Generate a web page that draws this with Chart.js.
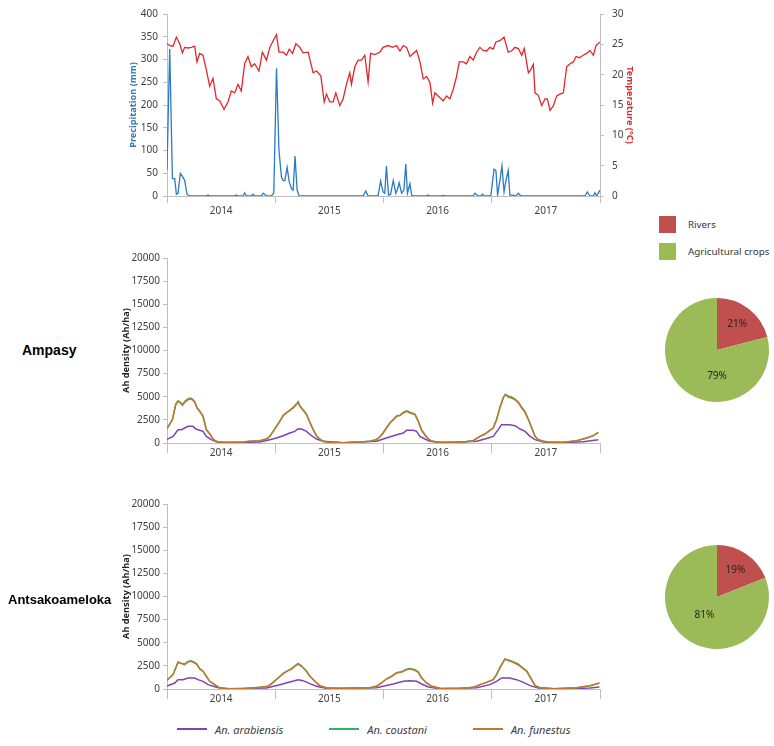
<!DOCTYPE html>
<html>
<head>
<meta charset="utf-8">
<script src="https://cdn.jsdelivr.net/npm/chart.js@4.4.0/dist/chart.umd.min.js"></script>
<style>
  body { margin: 0; background: #fff; }
  #page { position: relative; width: 774px; height: 746px; overflow: hidden; font-family: 'Noto Sans', sans-serif; color: #404040; }
  .abs { position: absolute; }
  .site { position: absolute; font: bold 14px 'Liberation Sans', Arial, sans-serif; color: #000; transform: translateY(-50%); white-space: nowrap; }
  #pie-legend .row { display: flex; align-items: center; height: 17px; margin-bottom: 10px; font-size: 9.8px; color: #333; white-space: nowrap; }
  #pie-legend .swatch { width: 17px; height: 17px; margin-right: 12px; }
  #species-legend { display: flex; align-items: center; gap: 46px; font-size: 11px; font-style: italic; color: #404040; }
  #species-legend .item { display: flex; align-items: center; white-space: nowrap; }
  #species-legend .line { width: 30px; height: 2px; margin-right: 8px; }
</style>
</head>
<body>
<div id="page">
  <canvas id="climate" class="abs" width="530" height="220" style="left:120px;top:0"></canvas>
  <canvas id="ampasy" class="abs" width="500" height="227" style="left:110px;top:240px"></canvas>
  <canvas id="antsa" class="abs" width="500" height="227" style="left:110px;top:486px"></canvas>
  <canvas id="pie-ampasy" class="abs" width="114" height="114" style="left:660px;top:293px"></canvas>
  <canvas id="pie-antsa" class="abs" width="114" height="114" style="left:660px;top:540px"></canvas>
  <div id="pie-legend" class="abs" style="left:659px;top:216px"></div>
  <div id="species-legend" class="abs" style="left:177px;top:722px;height:14px"></div>
  <div class="site" style="left:22px;top:350px">Ampasy</div>
  <div class="site" style="left:8px;top:599px;font-size:13px">Antsakoameloka</div>
</div>
<script>
// x positions are weeks counted from the start of 2014 (4 years = 208 weeks)
const years = ["2014", "2015", "2016", "2017"];

const tempWeeks = [0, 1.3, 2.9, 4.5, 6.1, 7.4, 8.5, 10.1, 11.7, 13.3, 14.4, 15.7, 17.3, 18.9, 20.5, 22.1, 23.7, 25.3, 27.4, 29.3,
  30.9, 32.5, 34.1, 35.7, 37.3, 38.9, 40.5, 42.1, 44.2, 45.8, 47.8, 49.4, 51.0, 52.6, 53.8, 55.8, 57.4, 58.7, 60.3, 61.9,
  63.8, 65.4, 67.8, 70.2, 71.8, 73.9, 75.5, 76.6, 78.2, 79.8, 81.1, 83.0, 84.6, 86.2, 87.8, 88.6, 90.2, 91.8, 93.4, 95.0,
  96.6, 97.8, 99.8, 102.2, 103.8, 106.3, 108.3, 110.3, 111.9, 113.5, 115.1, 116.7, 118.3, 119.9, 121.5, 123.1, 124.7, 126.3, 127.6, 128.7,
  131.1, 132.7, 134.3, 135.9, 137.5, 139.1, 140.4, 142.3, 143.9, 145.5, 147.1, 148.7, 150.3, 151.9, 153.5, 155.1, 156.7, 158.0, 159.9, 161.9,
  163.9, 165.5, 167.1, 168.8, 170.4, 171.6, 173.6, 174.7, 176.0, 176.8, 178.4, 180.0, 181.6, 182.7, 184.0, 185.6, 187.2, 188.8, 190.4, 192.0,
  193.6, 195.2, 196.5, 198.1, 200.0, 201.6, 203.2, 204.8, 206.1, 208.0];
const tempValues = [25.1, 24.8, 24.7, 26.2, 25.1, 23.6, 24.5, 24.4, 24.5, 24.7, 22.1, 23.5, 23.2, 20.8, 18.1, 19.4, 16.0, 15.7, 14.3, 15.5,
  17.3, 17.0, 18.4, 17.3, 21.8, 23.0, 21.3, 21.8, 20.6, 23.7, 22.4, 24.5, 25.6, 26.6, 23.7, 23.7, 23.2, 24.2, 23.5, 25.1,
  24.5, 23.6, 23.7, 20.3, 20.6, 19.8, 15.5, 16.8, 15.5, 15.5, 17.0, 14.9, 16.0, 18.4, 20.3, 18.4, 21.3, 22.4, 22.4, 23.2,
  18.8, 23.5, 23.3, 23.7, 24.5, 24.8, 24.5, 24.8, 23.9, 24.8, 24.5, 23.0, 23.5, 24.0, 22.1, 19.3, 19.7, 18.7, 15.3, 17.0,
  16.2, 15.7, 16.5, 16.0, 17.6, 19.7, 22.1, 22.1, 21.8, 23.0, 22.4, 23.7, 24.5, 24.0, 23.9, 24.5, 24.2, 25.4, 25.6, 26.2,
  23.7, 23.9, 24.5, 24.3, 23.2, 24.3, 20.3, 20.8, 21.7, 17.0, 16.6, 14.9, 16.0, 16.0, 14.1, 14.9, 16.5, 16.8, 17.0, 21.3,
  21.8, 22.1, 23.0, 22.8, 23.2, 23.5, 24.0, 23.2, 24.8, 25.4];

const rainWeeks = [0, 1.3, 2.6, 3.7, 4.5, 5.3, 6.4, 7.7, 8.5, 9.6, 10.9, 18.9, 19.7, 20.5, 32.5, 33.3, 34.1, 36.5, 37.3, 38.1,
  40.5, 41.3, 42.1, 45.4, 46.2, 47.8, 50.2, 51.3, 52.6, 53.8, 55.0, 55.8, 56.6, 57.7, 58.7, 59.8, 60.6, 61.5, 62.5, 63.5,
  94.2, 95.5, 96.6, 101.4, 102.6, 103.8, 104.6, 105.4, 106.4, 107.4, 108.7, 109.9, 110.6, 111.5, 112.7, 113.8, 114.7, 115.5, 116.7, 117.5,
  118.6, 124.7, 125.5, 126.3, 131.9, 132.7, 133.5, 147.1, 147.9, 149.5, 150.8, 151.6, 152.4, 154.8, 155.6, 157.1, 158.0, 158.8, 159.9, 160.9,
  161.9, 162.8, 163.9, 164.7, 166.3, 167.6, 168.8, 169.9, 200.8, 201.9, 203.2, 204.8, 205.6, 206.4, 208.0];
const rainValues = [57, 323, 38, 38, 4, 6, 50, 41, 34, 4, 0, 0, 2, 0, 0, 2, 0, 0, 7, 0,
  0, 4, 0, 0, 6, 0, 0, 7, 281, 99, 41, 34, 34, 63, 31, 16, 13, 88, 13, 0,
  0, 11, 0, 0, 33, 9, 6, 66, 2, 4, 34, 6, 13, 29, 6, 13, 70, 6, 27, 2,
  0, 0, 2, 0, 0, 1, 0, 0, 6, 0, 0, 4, 0, 0, 2, 59, 56, 2, 34, 66,
  9, 34, 56, 2, 2, 0, 6, 0, 0, 9, 0, 0, 7, 0, 13];

// Ampasy (Ah/ha)
const ampasyWeeks = [0, 2.6, 4.2, 5.3, 6.4, 7.4, 8.5, 10.1, 11.4, 12.5, 13.5, 14.4, 15.7, 17.3, 18.9, 20.5, 22.1, 23.7, 25.3, 28.5,
  33.3, 36.5, 39.7, 44.6, 47.8, 49.4, 51.0, 52.6, 54.2, 55.8, 57.4, 59.0, 60.6, 62.2, 63.0, 63.8, 65.4, 67.0, 68.6, 70.2,
  71.8, 73.4, 75.0, 77.4, 84.6, 92.6, 97.4, 100.6, 102.2, 103.8, 105.4, 107.1, 108.7, 110.3, 111.9, 113.5, 115.1, 116.7, 119.1, 120.7,
  122.3, 123.9, 125.5, 127.1, 129.5, 135.9, 142.3, 147.1, 150.3, 152.7, 155.1, 156.7, 158.3, 159.9, 161.5, 162.5, 163.9, 165.5, 167.1, 168.8,
  170.4, 172.0, 173.6, 175.2, 176.8, 178.4, 180.8, 184.0, 190.4, 196.8, 201.6, 204.8, 207.2];
const ampasyFunestus = [1550, 2520, 4145, 4500, 4325, 4070, 4400, 4685, 4760, 4615, 4325, 3785, 3425, 2880, 1440, 1010, 430, 180, 70, 70,
  70, 110, 180, 250, 430, 720, 1260, 1800, 2340, 2955, 3245, 3495, 3785, 4150, 4400, 3965, 3530, 3065, 2235, 1440,
  790, 430, 180, 70, 35, 110, 180, 360, 650, 1080, 1620, 2160, 2520, 2880, 2955, 3245, 3425, 3245, 3065, 2340,
  1370, 900, 430, 215, 110, 70, 110, 250, 720, 975, 1370, 1620, 2520, 3785, 4865, 5225, 4975, 4865, 4685, 4325,
  3785, 3315, 2520, 1620, 720, 360, 180, 70, 70, 250, 540, 790, 1150];
const ampasyCoustani = [1550, 2520, 4200, 4560, 4400, 4150, 4480, 4780, 4850, 4700, 4400, 3830, 3460, 2900, 1450, 1010, 430, 180, 70, 70,
  70, 110, 180, 250, 430, 720, 1260, 1810, 2360, 2990, 3290, 3550, 3850, 4230, 4470, 4040, 3600, 3120, 2270, 1450,
  790, 430, 180, 70, 35, 110, 180, 360, 650, 1080, 1630, 2180, 2550, 2920, 3010, 3300, 3480, 3320, 3130, 2380,
  1380, 900, 430, 215, 110, 70, 110, 250, 720, 975, 1370, 1620, 2540, 3820, 4920, 5250, 5080, 4970, 4780, 4420,
  3870, 3380, 2560, 1640, 720, 360, 180, 70, 70, 250, 540, 790, 1150];
const ampasyArabWeeks = [0, 2.9, 5.3, 6.9, 8.5, 10.1, 12.5, 13.8, 15.7, 17.3, 18.9, 21.3, 23.7, 28.5, 44.6, 49.4, 52.6, 55.8, 59.0, 61.4,
  63.0, 64.6, 67.0, 69.4, 71.8, 75.0, 84.6, 100.6, 105.4, 110.3, 113.5, 115.1, 118.3, 119.9, 121.5, 123.9, 126.3, 132.7, 148.7, 152.7,
  156.7, 159.1, 160.7, 164.7, 167.1, 169.6, 172.0, 174.4, 176.8, 180.8, 190.4, 200.0, 207.2];
const ampasyArabiensis = [400, 720, 1440, 1440, 1620, 1800, 1800, 1510, 1370, 1260, 720, 360, 145, 35, 110, 360, 540, 790, 1080, 1260,
  1550, 1510, 1260, 790, 430, 180, 35, 180, 540, 900, 1080, 1370, 1370, 1260, 720, 430, 180, 35, 180, 430,
  720, 1440, 1980, 1980, 1870, 1510, 1260, 720, 360, 110, 35, 145, 360];

// Antsakoameloka (Ah/ha)
const antsaWeeks = [0, 2.9, 5.3, 6.9, 8.5, 10.1, 11.7, 13.3, 14.4, 15.7, 17.3, 18.9, 20.5, 22.9, 25.3, 30.1, 36.5, 44.6, 48.6, 51.0,
  53.4, 55.8, 58.2, 59.8, 61.4, 63.0, 64.6, 67.0, 68.6, 71.0, 73.4, 76.6, 84.6, 97.4, 100.6, 103.0, 105.4, 107.9, 110.3, 112.7,
  115.1, 116.7, 119.1, 120.7, 122.3, 124.7, 127.1, 131.1, 140.7, 147.1, 150.3, 153.5, 156.7, 158.3, 160.3, 162.3, 163.9, 166.3, 168.8, 171.2,
  172.8, 174.7, 176.8, 179.2, 185.6, 196.8, 203.2, 207.7];
const antsaFunestus = [950, 1550, 2880, 2740, 2630, 2920, 2990, 2810, 2630, 2160, 1910, 1370, 830, 470, 110, 35, 35, 180, 290, 720,
  1190, 1660, 1980, 2160, 2450, 2700, 2450, 1910, 1370, 830, 360, 110, 0, 145, 290, 650, 1080, 1370, 1730, 1840,
  2090, 2160, 2020, 1800, 1190, 650, 290, 70, 35, 180, 470, 720, 1010, 1550, 2450, 3245, 3065, 2880, 2595, 2160,
  1910, 1190, 360, 145, 35, 145, 360, 650];
const antsaCoustani = [950, 1550, 2920, 2790, 2690, 2990, 3060, 2880, 2690, 2200, 1930, 1380, 830, 470, 110, 35, 35, 180, 290, 720,
  1190, 1680, 2010, 2200, 2500, 2760, 2510, 1950, 1390, 840, 360, 110, 0, 145, 290, 650, 1080, 1380, 1750, 1870,
  2130, 2220, 2080, 1850, 1210, 650, 290, 70, 35, 180, 470, 720, 1010, 1560, 2480, 3230, 3130, 2960, 2680, 2230,
  1960, 1210, 360, 145, 35, 145, 360, 650];
const antsaArabWeeks = [0, 3.7, 5.3, 7.7, 10.1, 13.3, 14.9, 17.3, 19.7, 23.7, 28.5, 47.8, 54.2, 59.0, 63.0, 65.4, 68.6, 71.8, 76.6, 100.6,
  108.7, 113.5, 116.7, 119.9, 122.3, 125.5, 131.1, 148.7, 155.1, 158.3, 160.7, 164.7, 167.9, 171.2, 174.4, 178.4, 188.8, 203.2, 207.7];
const antsaArabiensis = [330, 650, 1010, 1010, 1190, 1190, 1010, 830, 470, 180, 35, 110, 470, 760, 1010, 900, 580, 290, 70, 145,
  540, 830, 900, 830, 540, 215, 35, 145, 470, 830, 1190, 1190, 1010, 720, 360, 110, 0, 110, 215];

// land use shares (%)
const landLabels = ["Rivers", "Agricultural crops"];
const ampasyLand = [21, 79];
const antsaLand = [19, 81];

const speciesLabels = ["An. arabiensis", "An. coustani", "An. funestus"];

const axisGrey = "#bfbfbf";
const rainBlue = "#2a7bc3";
const tempRed = "#e3262b";
const speciesColors = ["#7f42b4", "#2fb35c", "#c8752c"];
const landColors = ["#c0504d", "#9bbb59"];

Chart.defaults.font.family = "'Noto Sans', sans-serif";
Chart.defaults.font.size = 10;
Chart.defaults.color = "#404040";
Chart.defaults.animation = false;
Chart.defaults.plugins.legend.display = false;
Chart.defaults.plugins.tooltip.enabled = false;

const toPoints = (weeks, values) => weeks.map((w, i) => ({ x: w, y: values[i] }));

const yearTicks = [0, 26, 52, 78, 104, 130, 156, 182, 208];
const yearAxis = (tickLength, padding) => ({
  type: "linear",
  min: 0,
  max: 208,
  afterBuildTicks: (axis) => {
    axis.ticks = yearTicks.map((v) => ({ value: v }));
  },
  afterFit: (axis) => {
    axis.height = 24;
  },
  ticks: {
    autoSkip: false,
    maxRotation: 0,
    padding,
    callback: (v) => (v % 52 === 26 ? years[(v - 26) / 52] : ""),
  },
  grid: {
    drawOnChartArea: false,
    tickLength,
    tickColor: (ctx) => (ctx.tick && ctx.tick.value % 52 === 0 ? axisGrey : "rgba(0,0,0,0)"),
  },
  border: { color: axisGrey },
});

const titleFont = { weight: "bold", size: 9.2 };

// Climate chart
new Chart(document.getElementById("climate"), {
  type: "line",
  data: {
    datasets: [
      {
        label: "Precipitation (mm)",
        data: toPoints(rainWeeks, rainValues),
        borderColor: rainBlue,
        borderWidth: 1.3,
        pointRadius: 0,
        yAxisID: "y",
      },
      {
        label: "Temperature (°C)",
        data: toPoints(tempWeeks, tempValues),
        borderColor: tempRed,
        borderWidth: 1.3,
        pointRadius: 0,
        yAxisID: "y1",
      },
    ],
  },
  options: {
    responsive: false,
    layout: { padding: { top: 9, left: 0, right: 0, bottom: 0 } },
    scales: {
      x: yearAxis(7, 2),
      y: {
        position: "left",
        min: 0,
        max: 400,
        afterFit: (axis) => {
          axis.width = 47;
        },
        ticks: { stepSize: 50, padding: 5, callback: (v) => String(v) },
        grid: { drawOnChartArea: false, tickLength: 4, color: axisGrey },
        border: { color: axisGrey },
        title: { display: true, text: "Precipitation (mm)", color: rainBlue, font: titleFont, padding: { top: 7.5, bottom: 0 } },
      },
      y1: {
        position: "right",
        min: 0,
        max: 30,
        afterFit: (axis) => {
          axis.width = 50;
        },
        ticks: { stepSize: 5, padding: 8, callback: (v) => String(v) },
        grid: { drawOnChartArea: false, tickLength: 4, color: axisGrey },
        border: { color: axisGrey },
        title: { display: true, text: "Temperature (°C)", color: tempRed, font: titleFont, padding: { top: 14.5, bottom: 0 } },
      },
    },
  },
});

// Density charts
const densityChart = (id, arabW, arab, w, coustani, funestus) =>
  new Chart(document.getElementById(id), {
    type: "line",
    data: {
      datasets: [
        { label: speciesLabels[0], data: toPoints(arabW, arab), order: 2 },
        { label: speciesLabels[1], data: toPoints(w, coustani), order: 1 },
        { label: speciesLabels[2], data: toPoints(w, funestus), order: 0 },
      ].map((ds, i) => ({
        ...ds,
        borderColor: speciesColors[i],
        backgroundColor: speciesColors[i],
        borderWidth: 1.5,
        pointRadius: 0,
      })),
    },
    options: {
      responsive: false,
      layout: { padding: { top: 18, left: 0, right: 10, bottom: 0 } },
      scales: {
        x: yearAxis(10, -6),
        y: {
          min: 0,
          max: 20000,
          afterFit: (axis) => {
            axis.width = 57;
          },
          ticks: { stepSize: 2500, padding: 3, callback: (v) => String(v) },
          grid: { drawOnChartArea: false, tickLength: 4, color: axisGrey },
          border: { color: axisGrey },
          title: { display: true, text: "Ah density (Ah/ha)", color: "#222", font: titleFont, padding: { top: 10.5, bottom: 0 } },
        },
      },
    },
  });

densityChart("ampasy", ampasyArabWeeks, ampasyArabiensis, ampasyWeeks, ampasyCoustani, ampasyFunestus);
const antsaChart = densityChart("antsa", antsaArabWeeks, antsaArabiensis, antsaWeeks, antsaCoustani, antsaFunestus);

// Pie charts with percentage labels
const sliceLabels = {
  id: "sliceLabels",
  afterDatasetsDraw(chart, args, opts) {
    const { ctx } = chart;
    const values = chart.data.datasets[0].data;
    const total = values.reduce((a, b) => a + b, 0);
    ctx.save();
    ctx.font = "10px 'Noto Sans'";
    ctx.fillStyle = "#262626";
    ctx.textAlign = "center";
    ctx.textBaseline = "middle";
    chart.getDatasetMeta(0).data.forEach((arc, i) => {
      const { x, y, startAngle, endAngle, outerRadius } = arc.getProps(["x", "y", "startAngle", "endAngle", "outerRadius"], true);
      const spot = opts.spots[i];
      const a = spot.angle == null ? (startAngle + endAngle) / 2 : ((spot.angle - 90) * Math.PI) / 180;
      const r = outerRadius * spot.r;
      ctx.fillText(`${Math.round((values[i] / total) * 100)}%`, x + Math.cos(a) * r, y + Math.sin(a) * r);
    });
    ctx.restore();
  },
};

const pieChart = (id, values, spots) =>
  new Chart(document.getElementById(id), {
    type: "pie",
    data: {
      labels: landLabels,
      datasets: [{ data: values, backgroundColor: landColors, borderWidth: 0 }],
    },
    options: {
      responsive: false,
      layout: { padding: 5 },
      plugins: { sliceLabels: { spots } },
    },
    plugins: [sliceLabels],
  });

pieChart("pie-ampasy", ampasyLand, [{ r: 0.63 }, { angle: 180, r: 0.5 }]);
pieChart("pie-antsa", antsaLand, [{ r: 0.63 }, { r: 0.43 }]);

// Legends
document.getElementById("pie-legend").innerHTML = landLabels
  .map((l, i) => `<div class="row"><span class="swatch" style="background:${landColors[i]}"></span>${l}</div>`)
  .join("");

document.getElementById("species-legend").innerHTML = antsaChart.data.datasets
  .map((ds) => `<div class="item"><span class="line" style="background:${ds.borderColor}"></span>${ds.label}</div>`)
  .join("");
</script>
</body>
</html>
